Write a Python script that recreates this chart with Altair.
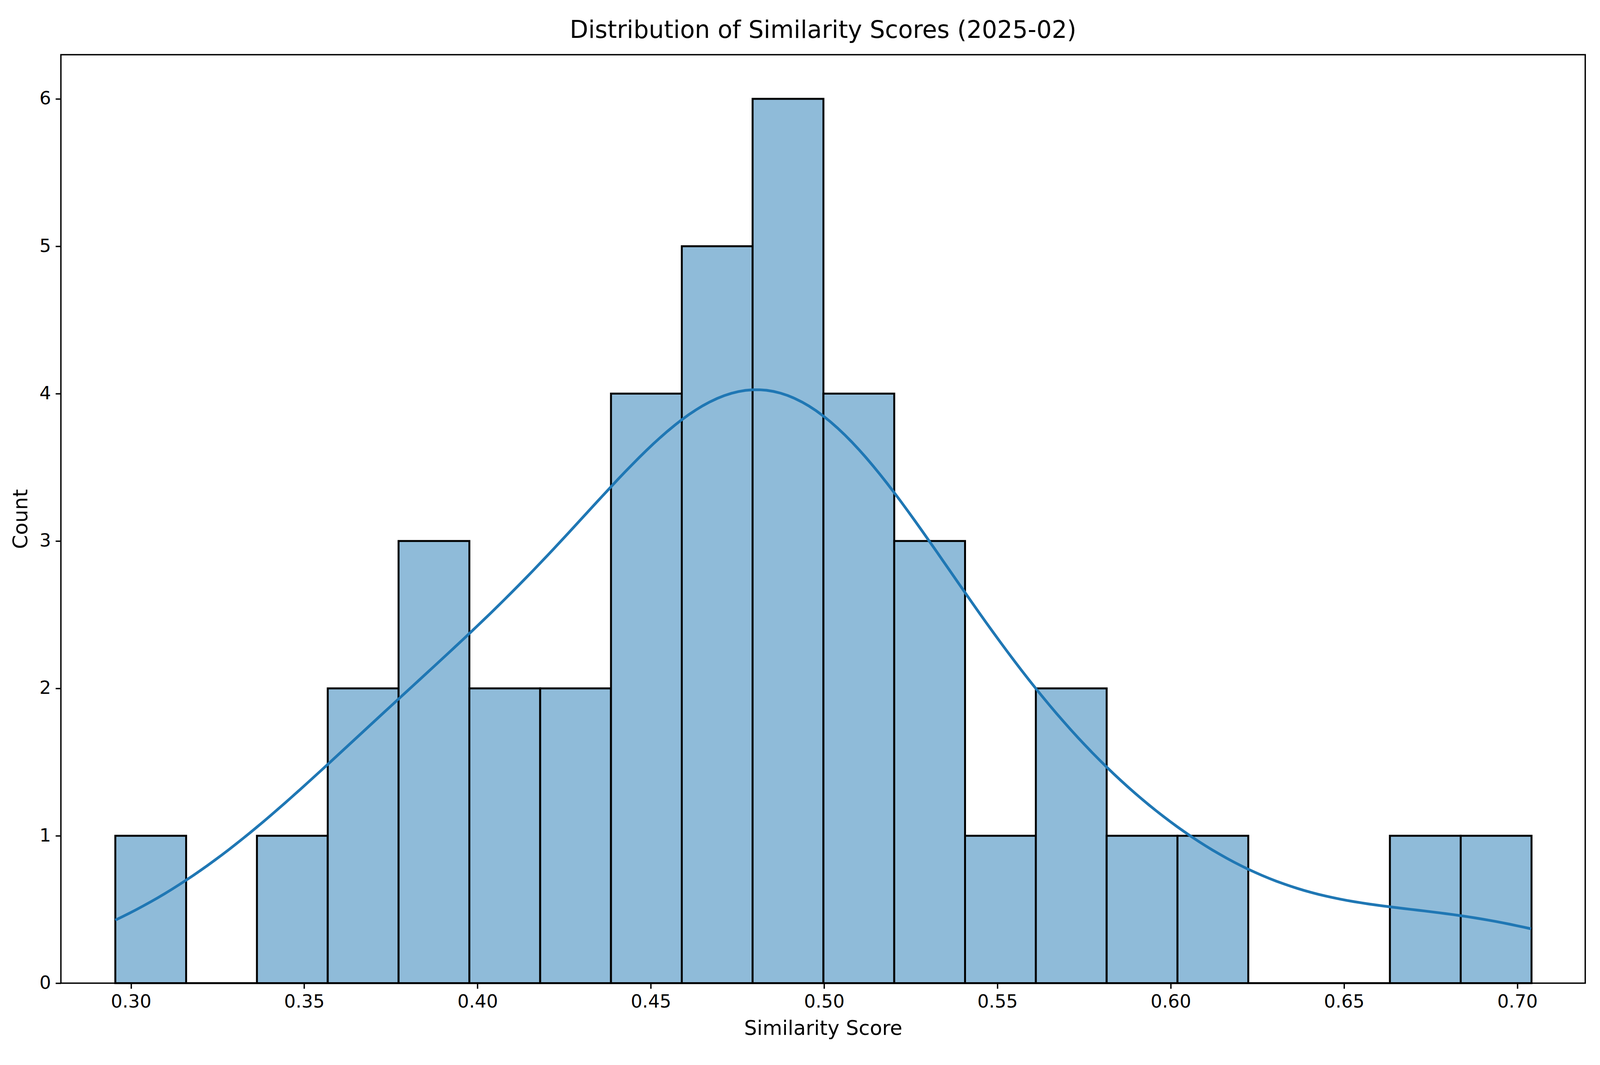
import altair as alt
import pandas as pd

# histogram
bin_min = 0.2955
bin_width = 0.02043
counts = [1, 0, 1, 2, 3, 2, 2, 4, 5, 6, 4, 3, 1, 2, 1, 1, 0, 0, 1, 1]
x_ticks = [0.30, 0.35, 0.40, 0.45, 0.50, 0.55, 0.60, 0.65, 0.70]
y_ticks = [0, 1, 2, 3, 4, 5, 6]

bars = pd.DataFrame({
    'start': [bin_min + i * bin_width for i in range(len(counts))],
    'count': counts,
})
bars['end'] = bars['start'] + bin_width

# samples at bin centres, repeated by count, for the KDE
samples = pd.DataFrame({
    'score': [s + bin_width / 2 for s, c in zip(bars['start'], counts) for _ in range(c)]
})

x_scale = alt.Scale(domain=[0.2798, 0.7196], nice=False, zero=False)
y_scale = alt.Scale(domain=[0, 6.3], nice=False)

hist = alt.Chart(bars).mark_rect(
    fill='#8fbbd9', stroke='black', strokeWidth=5
).encode(
    x=alt.X('start:Q', scale=x_scale, title='Similarity Score')
        .axis(values=x_ticks, format='.2f'),
    x2='end:Q',
    y=alt.Y('count:Q', scale=y_scale, title='Count').axis(values=y_ticks, format='d'),
)

kde = alt.Chart(samples).transform_density(
    'score', as_=['score', 'density'], bandwidth=0.0405,
    extent=[0.2955, 0.704], steps=200, counts=True
).transform_calculate(
    y=f'datum.density * {bin_width}'
).mark_line(color='#1f77b4', strokeWidth=7).encode(
    x=alt.X('score:Q', scale=x_scale),
    y=alt.Y('y:Q', scale=y_scale),
)

chart = (hist + kde).properties(
    title='Distribution of Similarity Scores (2025-02)',
    width=4110, height=2690,
    padding={'left': 20, 'top': 30, 'right': 30, 'bottom': 30},
    autosize=alt.AutoSizeParams(type='fit', contains='padding'),
).configure(
    font='DejaVu Sans',
).configure_view(
    stroke='black', strokeWidth=3.5
).configure_axis(
    grid=False, domain=False, labelFontSize=47, titleFontSize=52,
    labelColor='black', titleColor='black', titleFontWeight='normal',
    tickColor='black', tickSize=14, tickWidth=3.5, labelPadding=12, titlePadding=20,
).configure_title(
    fontSize=62, fontWeight='normal', color='black', offset=30
)

chart.save("out.html", embed_options={"renderer": "svg", "actions": False})
